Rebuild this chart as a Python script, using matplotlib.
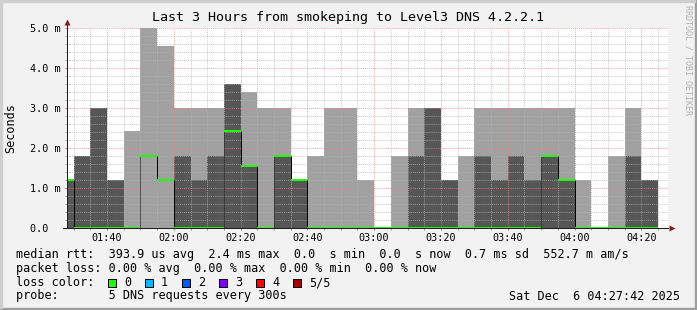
import matplotlib
matplotlib.use("Agg")
import matplotlib.pyplot as plt
from matplotlib.patches import Rectangle

# ------------------------------------------------------------------ datos
# inicio de cada intervalo de 5 minutos
bin_start = ["01:25", "01:30", "01:35", "01:40", "01:45", "01:50", "01:55",
             "02:00", "02:05", "02:10", "02:15", "02:20", "02:25", "02:30",
             "02:35", "02:40", "02:45", "02:50", "02:55", "03:00", "03:05",
             "03:10", "03:15", "03:20", "03:25", "03:30", "03:35", "03:40",
             "03:45", "03:50", "03:55", "04:00", "04:05", "04:10", "04:15",
             "04:20"]

# humo (ms): maximo, ping alto y ping bajo de la banda oscura
smoke_max = [1.2, 1.8, 3.0, 1.2, 2.43, 5.0, 4.55, 3.0, 3.0, 3.0, 3.6, 3.4,
             3.0, 3.0, 1.2, 1.8, 3.0, 3.0, 1.2, 0.0, 1.8, 3.0, 3.0, 1.2,
             1.8, 3.0, 3.0, 3.0, 3.0, 3.0, 3.0, 1.2, 0.0, 1.8, 3.0, 1.2]
smoke_hi = [1.2, 1.8, 3.0, 1.2, 0.0, 1.8, 1.2, 1.8, 1.2, 1.8, 3.6, 1.55,
            0.0, 1.8, 1.2, 0.0, 0.0, 0.0, 0.0, 0.0, 0.0, 1.8, 3.0, 1.2,
            0.0, 1.8, 1.2, 1.8, 1.2, 1.8, 1.2, 0.0, 0.0, 0.0, 1.8, 1.2]
smoke_lo = [0.0, 0.0, 0.0, 0.0, 0.0, 1.8, 1.2, 0.0, 0.0, 0.0, 0.0, 0.0,
            0.0, 0.0, 0.0, 0.0, 0.0, 0.0, 0.0, 0.0, 0.0, 0.0, 0.0, 0.0,
            0.0, 0.0, 0.0, 0.0, 0.0, 0.0, 0.0, 0.0, 0.0, 0.0, 0.0, 0.0]
median = [1.2, 0.0, 0.0, 0.0, 0.0, 1.8, 1.2, 0.0, 0.0, 0.0, 2.43, 1.55,
          0.0, 1.8, 1.2, 0.0, 0.0, 0.0, 0.0, 0.0, 0.0, 0.0, 0.0, 0.0,
          0.0, 0.0, 0.0, 0.0, 0.0, 1.8, 1.2, 0.0, 0.0, 0.0, 0.0, 0.0]

x_ticks = ["01:40", "02:00", "02:20", "02:40", "03:00", "03:20", "03:40",
           "04:00", "04:20"]
y_ticks = [0.0, 1.0, 2.0, 3.0, 4.0, 5.0]
y_labels = ["0.0  ", "1.0 m", "2.0 m", "3.0 m", "4.0 m", "5.0 m"]

t_start = "01:28"
t_end = "04:28"

loss_names = ["0", "1", "2", "3", "4", "5/5"]
loss_colors = ["#20ff00", "#00b8ff", "#0059ff", "#7e00ff", "#ff0000", "#a10000"]

title = "Last 3 Hours from smokeping to Level3 DNS 4.2.2.1"
line_rtt = ("median rtt:  393.9 us avg  2.4 ms max  0.0  s min  0.0  s now"
            "  0.7 ms sd  552.7 m am/s")
line_loss = "packet loss: 0.00 % avg  0.00 % max  0.00 % min  0.00 % now"
line_probe = "probe:       5 DNS requests every 300s"
stamp = "Sat Dec  6 04:27:42 2025"


def minutes(s):
    h, m = s.split(":")
    return int(h) * 60 + int(m)


x = [minutes(s) for s in bin_start]
dark_h = [hi - lo for hi, lo in zip(smoke_hi, smoke_lo)]

# ------------------------------------------------------------------ figura
W, H = 697, 310
px = 0.72  # 1 pixel en puntos (dpi 100)
mono = "DejaVu Sans Mono"

fig = plt.figure(figsize=(W / 100, H / 100), dpi=100, facecolor="#f2f2f2")
ax = fig.add_axes([67 / W, (H - 228) / H, 601 / W, 200 / H])
ax.set_facecolor("white")

ax.bar(x, smoke_max, width=5, align="edge", color="#a1a1a1", lw=0, zorder=1)
ax.bar(x, dark_h, bottom=smoke_lo, width=5, align="edge", color="#565656",
       lw=0, zorder=1.1)

# mediana
ax.hlines(median, x, [v + 5 for v in x], color=loss_colors[0], lw=2 * px,
          zorder=3)
for k in range(1, len(x)):
    if median[k] != median[k - 1]:
        ls = (0, (1, 1)) if median[k] > median[k - 1] else "solid"
        ax.vlines(x[k], min(median[k], median[k - 1]),
                  max(median[k], median[k - 1]), color="black", lw=px,
                  linestyles=[ls], zorder=2.9)

ax.set_xlim(minutes(t_start), minutes(t_end))
ax.set_ylim(0, 5.0)

ax.set_xticks([minutes(s) for s in x_ticks], x_ticks)
ax.set_xticks(range(minutes(t_start) + 2, minutes(t_end), 5), minor=True)
ax.set_yticks(y_ticks, y_labels)
ax.set_yticks([v / 5 for v in range(0, 26)], minor=True)

ax.set_axisbelow("line")
ax.grid(which="minor", color="#b4b4b4", alpha=0.85, lw=0.8 * px,
        ls=(0, (1.3, 1.3)))
ax.grid(which="major", color="#ec8484", alpha=0.85, lw=0.8 * px,
        ls=(0, (1.3, 1.3)))

ax.tick_params(which="both", direction="out", width=px, labelsize=7.3)
ax.tick_params(which="major", length=2 * px, color="#e07070")
ax.tick_params(which="minor", length=2 * px, color="#a0a0a0")
ax.tick_params(axis="x", pad=3 * px)
ax.tick_params(axis="y", pad=35 * px)
for lab in ax.get_xticklabels() + ax.get_yticklabels():
    lab.set_family(mono)
for lab in ax.get_yticklabels():
    lab.set_ha("left")

for sp in ax.spines.values():
    sp.set_visible(False)

# ejes con flecha
ax.plot([0, 0], [0, 1.02], color="#1f1f1f", lw=px, transform=ax.transAxes,
        clip_on=False, zorder=5)
ax.plot([-4 / 601, 1.0], [0, 0], color="#1f1f1f", lw=px,
        transform=ax.transAxes, clip_on=False, zorder=5)
ax.plot([0], [1.03], marker="^", ms=4, color="#801f1f", mec="none",
        transform=ax.transAxes, clip_on=False, zorder=6)
ax.plot([1.007], [0], marker=">", ms=4, color="#801f1f", mec="none",
        transform=ax.transAxes, clip_on=False, zorder=6)

ax.set_ylabel("Seconds", family=mono, fontsize=8.5)
ax.yaxis.set_label_coords(-50 / 601, 0.5)

fig.text(0.5, 1 - 18 / H, title, family=mono, fontsize=9.6, ha="center",
         va="center")
fig.text(688 / W, 1 - 5 / H, "RRDTOOL / TOBI OETIKER", family=mono,
         fontsize=6, color="#b0b0b0", rotation=-90, ha="center", va="top")

# leyenda
fs = 8.5
fig.text(16 / W, 1 - 258 / H, line_rtt, family=mono, fontsize=fs,
         va="baseline")
fig.text(16 / W, 1 - 272 / H, line_loss, family=mono, fontsize=fs,
         va="baseline")
fig.text(16 / W, 1 - 286 / H, "loss color:", family=mono, fontsize=fs,
         va="baseline")
for i, (name, col) in enumerate(zip(loss_names, loss_colors)):
    x0 = 108 + 37 * i
    fig.patches.append(Rectangle((x0 / W, 1 - 287 / H), 8 / W, 8 / H,
                                 transform=fig.transFigure, facecolor=col,
                                 edgecolor="black", lw=px))
    fig.text((x0 + 16) / W, 1 - 286 / H, name, family=mono, fontsize=fs,
             va="baseline")
fig.text(16 / W, 1 - 299.5 / H, line_probe, family=mono, fontsize=fs,
         va="baseline")
fig.text(680 / W, 1 - 299.5 / H, stamp, family=mono, fontsize=fs,
         va="baseline", ha="right")

# marco
fig.patches.append(Rectangle((0, 0), 1, 2 / H, transform=fig.transFigure,
                             color="#9e9e9e"))
fig.patches.append(Rectangle((1 - 2 / W, 0), 2 / W, 1,
                             transform=fig.transFigure, color="#9e9e9e"))
fig.patches.append(Rectangle((0, 1 - 2 / H), 1 - 2 / W, 2 / H,
                             transform=fig.transFigure, color="#cfcfcf"))
fig.patches.append(Rectangle((0, 2 / H), 2 / W, 1 - 4 / H,
                             transform=fig.transFigure, color="#cfcfcf"))

fig.savefig("out.png", dpi=100, facecolor=fig.get_facecolor())
